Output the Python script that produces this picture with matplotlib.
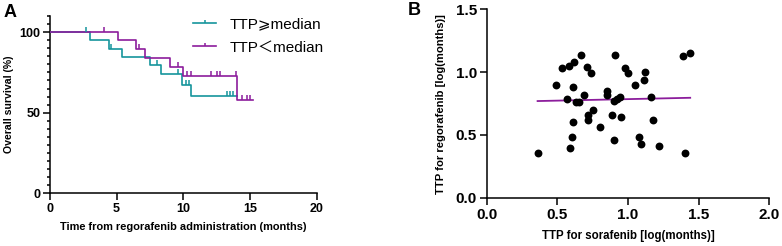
import matplotlib
matplotlib.use("Agg")
import matplotlib.pyplot as plt
from matplotlib.lines import Line2D
from matplotlib.ticker import MultipleLocator, FormatStrFormatter

plt.rcParams["font.family"] = ["Liberation Sans", "DejaVu Sans", "Noto Sans CJK SC"]

# ---------------------------------------------------------------------------
# Panel A data: Kaplan-Meier steps (time in months, survival in %)
# ---------------------------------------------------------------------------
hi_times = [0, 3.0, 4.45, 5.43, 7.5, 8.33, 9.88, 10.55, 14.0]
hi_surv = [100, 95, 89.5, 84.5, 79.5, 74, 67.5, 60.3, 60.3]
hi_censor = [2.67, 4.58, 8.0, 9.6, 10.17, 10.43, 13.25, 13.5, 13.7]

lo_times = [0, 4.0, 5.07, 6.43, 7.1, 9.0, 10.0, 14.0, 15.25]
lo_surv = [100, 100, 95, 89.5, 84, 78.2, 72.5, 57.7, 57.7]
lo_censor = [4.07, 6.7, 9.6, 10.25, 10.55, 12.05, 12.5, 12.75, 13.95, 14.38, 14.75, 15.0]

# ---------------------------------------------------------------------------
# Panel B data: log TTP sorafenib vs regorafenib
# ---------------------------------------------------------------------------
ttp_sora = [0.36, 0.49, 0.53, 0.58, 0.62, 0.67, 0.71, 0.74, 0.61, 0.69,
            0.57, 0.63, 0.65, 0.75, 0.72, 0.72, 0.61, 0.60, 0.59, 0.80,
            0.91, 0.85, 0.85, 0.90, 0.92, 0.94, 0.89, 0.95, 0.90, 0.98,
            1.00, 1.05, 1.11, 1.12, 1.16, 1.18, 1.08, 1.09, 1.22, 1.40,
            1.39, 1.44]
ttp_rego = [0.36, 0.90, 1.03, 1.05, 1.08, 1.14, 1.04, 0.99, 0.88, 0.82,
            0.79, 0.76, 0.76, 0.70, 0.66, 0.62, 0.60, 0.48, 0.40, 0.56,
            1.14, 0.85, 0.82, 0.77, 0.79, 0.80, 0.66, 0.64, 0.46, 1.03,
            0.99, 0.90, 0.94, 1.00, 0.80, 0.62, 0.48, 0.43, 0.41, 0.36,
            1.13, 1.15]
fit_x = [0.36, 1.44]
fit_y = [0.770, 0.796]

TEAL = "#15959c"
PURPLE = "#8c1d9c"
TICK_MARK = [(0, 0), (0, 1)]

fig = plt.figure(figsize=(7.82, 2.46), dpi=100)

# ---------------------------------------------------------------------------
# Panel A
# ---------------------------------------------------------------------------
axA = fig.add_axes([0.0639, 0.214, 0.341, 0.721])
for times, surv, cens, color in [(hi_times, hi_surv, hi_censor, TEAL),
                                 (lo_times, lo_surv, lo_censor, PURPLE)]:
    axA.step(times, surv, where="post", color=color, lw=1.2, zorder=3)
    cy = [surv[max(i for i, t in enumerate(times) if t <= c)] for c in cens]
    axA.plot(cens, cy, linestyle="none", marker=TICK_MARK, markersize=7,
             markeredgewidth=1.1, color=color, zorder=4)

axA.set_xlim(0, 20)
axA.set_ylim(0, 110)
axA.xaxis.set_major_locator(MultipleLocator(5))
axA.set_yticks([0, 50, 100])
axA.yaxis.set_minor_locator(MultipleLocator(5))
axA.tick_params(which="major", length=5, width=1.1, labelsize=9, pad=2)
axA.tick_params(which="minor", length=2.5, width=1.1)
axA.tick_params(axis="x", which="minor", length=0)
for lab in axA.get_xticklabels() + axA.get_yticklabels():
    lab.set_fontweight("bold")
for side in ["top", "right"]:
    axA.spines[side].set_visible(False)
for side in ["left", "bottom"]:
    axA.spines[side].set_linewidth(1.1)
axA.set_xlabel("Time from regorafenib administration (months)",
               fontsize=7.9, fontweight="bold", labelpad=5)
axA.set_ylabel("Overall survival (%)", fontsize=7.6, fontweight="bold", labelpad=4)

handles = [
    Line2D([0, 0.5, 1], [0, 0, 0], color=TEAL, lw=1.2, marker=TICK_MARK,
           markersize=5, markevery=[1], markeredgewidth=1.1),
    Line2D([0, 0.5, 1], [0, 0, 0], color=PURPLE, lw=1.2, marker=TICK_MARK,
           markersize=5, markevery=[1], markeredgewidth=1.1),
]
axA.legend(handles, ["TTP⩾median", "TTP＜median"], loc="upper right",
           bbox_to_anchor=(1.08, 1.07), frameon=False,
           handlelength=1.5, handletextpad=0.9, labelspacing=0.6,
           prop={"family": ["Liberation Sans", "DejaVu Sans", "Noto Sans CJK SC"],
                 "size": 11})

# ---------------------------------------------------------------------------
# Panel B
# ---------------------------------------------------------------------------
axB = fig.add_axes([0.6224, 0.196, 0.3614, 0.766])
axB.scatter(ttp_sora, ttp_rego, s=32, color="black", zorder=3, linewidths=0)
axB.plot(fit_x, fit_y, color=PURPLE, lw=1.3, zorder=2)
axB.set_xlim(0, 2.0)
axB.set_ylim(0, 1.5)
axB.xaxis.set_major_locator(MultipleLocator(0.5))
axB.yaxis.set_major_locator(MultipleLocator(0.5))
axB.xaxis.set_major_formatter(FormatStrFormatter("%.1f"))
axB.yaxis.set_major_formatter(FormatStrFormatter("%.1f"))
axB.tick_params(length=5, width=1.1, labelsize=11, pad=2)
for lab in axB.get_xticklabels() + axB.get_yticklabels():
    lab.set_fontweight("bold")
for side in ["top", "right"]:
    axB.spines[side].set_visible(False)
for side in ["left", "bottom"]:
    axB.spines[side].set_linewidth(1.1)
axB.set_xlabel("TTP for sorafenib [log(months)]", fontsize=8.3,
               fontweight="bold", labelpad=6)
axB.set_ylabel("TTP for regorafenib [log(months)]", fontsize=8.1,
               fontweight="bold", labelpad=7)

fig.text(0.004, 0.985, "A", fontsize=13, fontweight="bold", va="top", ha="left")
fig.text(0.521, 0.99, "B", fontsize=13, fontweight="bold", va="top", ha="left")

fig.savefig("out.png", dpi=100)
